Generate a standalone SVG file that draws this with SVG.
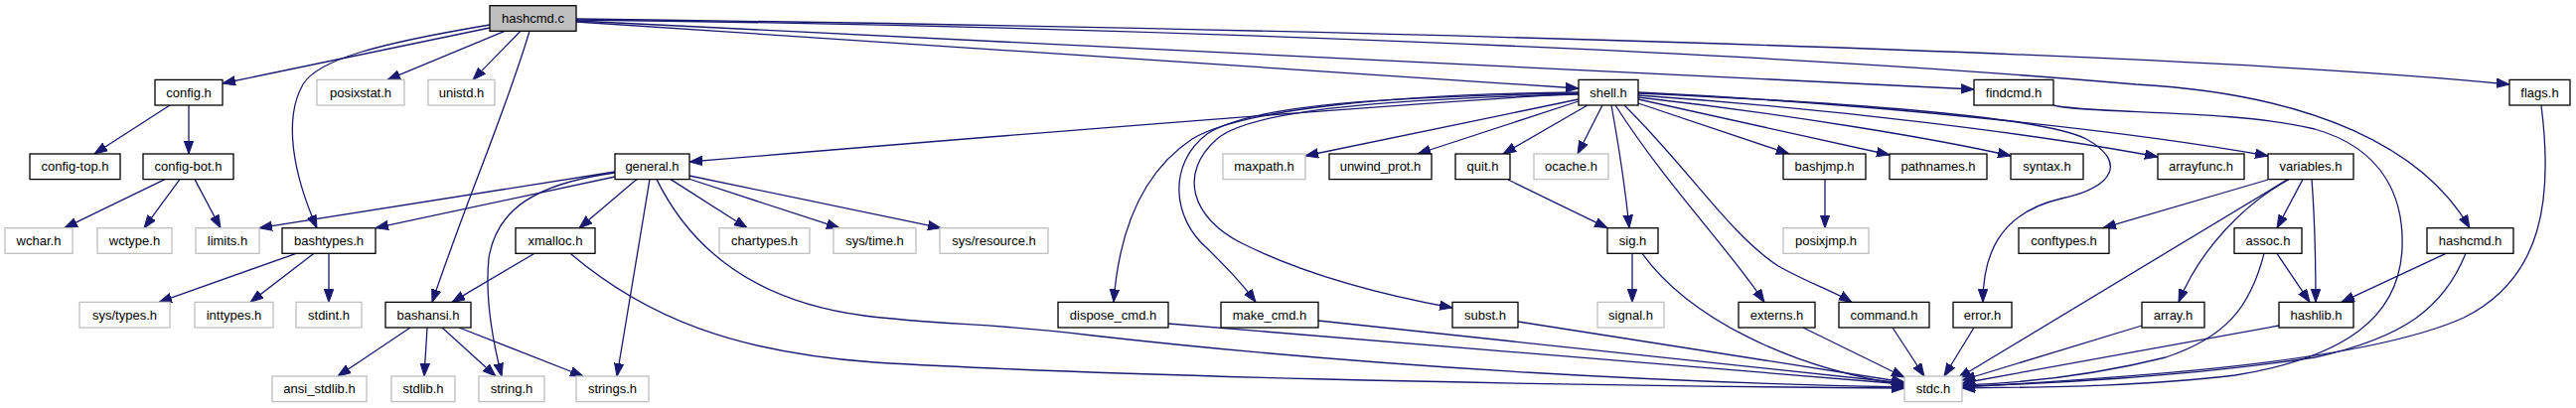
<svg xmlns="http://www.w3.org/2000/svg" width="2593" height="411" viewBox="0 0 2593 411">
<style>
.n rect{fill:#fff;stroke:#000;stroke-width:1.3}
.g rect{fill:#fff;stroke:#bfbfbf;stroke-width:1.3}
.r rect{fill:#bfbfbf;stroke:#000;stroke-width:1.3}
text{font-family:"Liberation Sans",Arial,sans-serif;font-size:13px;text-anchor:middle;fill:#000}
.e path{fill:none;stroke:#191970;stroke-width:1.3;marker-end:url(#a)}
</style>
<defs>
<marker id="a" markerUnits="userSpaceOnUse" markerWidth="14" markerHeight="11" refX="13" refY="5" orient="auto">
<path d="M0,0.3 L13,5 L0,9.7 z" fill="#191970" stroke="#191970" stroke-width="1"/>
</marker>
</defs>
<rect width="2593" height="411" fill="#fff"/>
<g class="e">
<path d="M493,28 L224,84"/>
<path d="M493,25 C380,44 320,60 305,85 C285,120 295,175 319,229.7"/>
<path d="M508,31.3 L390,80.4"/>
<path d="M524,31.3 L476,80.4"/>
<path d="M533,31.3 C510,110 470,200 435,304.4"/>
<path d="M580,22 L1589,89"/>
<path d="M580,21 L1987,90"/>
<path d="M580,19 C1300,28 2200,52 2526,85"/>
<path d="M580,20 C1100,26 1750,50 2150,85 C2330,95 2440,150 2486,229.7"/>
<path d="M1589,94 Q1300,112 694,163"/>
<path d="M1589,100 L1314,157"/>
<path d="M1589,102 L1427,155"/>
<path d="M1598,106 L1513,155"/>
<path d="M1613,106 L1588,155"/>
<path d="M1622,106 C1630,150 1636,190 1640,229.7"/>
<path d="M1626,106 C1680,190 1740,250 1776,304.4"/>
<path d="M1635,106 C1700,170 1740,235 1790,268 C1820,285 1845,293 1864,304.4"/>
<path d="M1649,104 L1801,155"/>
<path d="M1649,100 L1902,156"/>
<path d="M1649,98 C1800,115 1950,140 2024,157"/>
<path d="M1649,96 C1850,110 2050,135 2172,158"/>
<path d="M1649,93 C1900,105 2150,133 2283,157"/>
<path d="M1649,94 C1900,105 2060,120 2100,140 C2140,162 2130,188 2075,200 C2010,215 1996,260 1996,304.4"/>
<path d="M1589,93 C1400,95 1250,110 1200,140 C1140,180 1125,250 1121,304.4"/>
<path d="M1589,94 C1400,97 1260,105 1215,135 C1175,165 1180,220 1215,250 C1235,270 1250,285 1264,304.4"/>
<path d="M1589,95 C1400,100 1260,110 1225,140 C1185,175 1200,220 1250,245 C1310,275 1380,295 1462,310"/>
<path d="M1518,181 L1618,229.7"/>
<path d="M1643,255.3 L1643,304.4"/>
<path d="M1653,255.3 C1700,320 1800,370 1917,388"/>
<path d="M619,173 L261,229.7"/>
<path d="M619,178 L378,229.7"/>
<path d="M619,174 C540,185 500,210 492,260 C488,300 495,340 505,379"/>
<path d="M641,180.6 L583,229.7"/>
<path d="M654,180.6 L621,379"/>
<path d="M675,180.6 L752,229.7"/>
<path d="M693,180 L845,229.7"/>
<path d="M694,177 L947,229.7"/>
<path d="M661,180.6 C700,260 770,305 870,318 C950,328 1000,325 1100,338 C1400,372 1700,386 1917,390"/>
<path d="M538,255.3 L455,304.4"/>
<path d="M574,255.3 C650,320 740,355 880,365 C1100,378 1500,388 1917,391"/>
<path d="M1176,326 L1917,387"/>
<path d="M1327,323 L1917,386"/>
<path d="M1528,324 L1917,385"/>
<path d="M1815,330 L1917,380"/>
<path d="M1905,330 L1937,379"/>
<path d="M1987,330 L1957,379"/>
<path d="M2303,180.6 L1971,381"/>
<path d="M2283,181 L2117,229.7"/>
<path d="M2304,180.6 C2260,205 2215,250 2193,304.4"/>
<path d="M2318,180.6 L2292,229.7"/>
<path d="M2327,180.6 C2330,220 2331,260 2331,304.4"/>
<path d="M2292,255.3 L2325,304.4"/>
<path d="M2279,255.3 C2265,310 2240,340 2180,360 C2100,380 2030,386 1975.3,388"/>
<path d="M2462,255.3 L2357,304.4"/>
<path d="M2482,255.3 C2460,310 2420,340 2330,360 C2200,380 2050,387 1975.3,389"/>
<path d="M2558,106 C2570,200 2560,280 2480,320 C2380,365 2150,380 1975.3,390"/>
<path d="M2067,106 C2100,115 2250,110 2330,130 C2400,150 2420,200 2418,250 C2415,320 2360,360 2250,378 C2150,390 2050,390 1975.3,391"/>
<path d="M2294,328 L1975.3,386"/>
<path d="M2156,328 L1975.3,383"/>
<path d="M171,106 L95,155"/>
<path d="M190,106 L190,155"/>
<path d="M166,180.6 L65,229.7"/>
<path d="M181,180.6 L145,229.7"/>
<path d="M196,180.6 L222,229.7"/>
<path d="M298,255.3 L160,304.4"/>
<path d="M316,255.3 L252,304.4"/>
<path d="M331,255.3 L331,304.4"/>
<path d="M413,330 L340,379"/>
<path d="M430,330 L427,379"/>
<path d="M445,330 L499,379"/>
<path d="M462,330 L587,379"/>
<path d="M1837,180.6 L1837,229.7"/>
</g>
<g id="hashcmd_c" class="r"><rect x="493" y="5.7" width="87" height="25.6"/><text x="536.5" y="23">hashcmd.c</text></g>
<g id="config_h" class="n"><rect x="156" y="80.4" width="68" height="25.6"/><text x="190" y="97.7">config.h</text></g>
<g id="posixstat_h" class="g"><rect x="319" y="80.4" width="88" height="25.6"/><text x="363" y="97.7">posixstat.h</text></g>
<g id="unistd_h" class="g"><rect x="431" y="80.4" width="67" height="25.6"/><text x="464.5" y="97.7">unistd.h</text></g>
<g id="shell_h" class="n"><rect x="1589" y="80.4" width="60" height="25.6"/><text x="1619" y="97.7">shell.h</text></g>
<g id="findcmd_h" class="n"><rect x="1987" y="80.4" width="80" height="25.6"/><text x="2027" y="97.7">findcmd.h</text></g>
<g id="flags_h" class="n"><rect x="2526" y="80.4" width="61" height="25.6"/><text x="2556.5" y="97.7">flags.h</text></g>
<g id="config-top_h" class="n"><rect x="30" y="155" width="91" height="25.6"/><text x="75.5" y="172.3">config-top.h</text></g>
<g id="config-bot_h" class="n"><rect x="144" y="155" width="91" height="25.6"/><text x="189.5" y="172.3">config-bot.h</text></g>
<g id="general_h" class="n"><rect x="619" y="155" width="75" height="25.6"/><text x="656.5" y="172.3">general.h</text></g>
<g id="maxpath_h" class="g"><rect x="1231" y="155" width="83" height="25.6"/><text x="1272.5" y="172.3">maxpath.h</text></g>
<g id="unwind_prot_h" class="n"><rect x="1338" y="155" width="103" height="25.6"/><text x="1389.5" y="172.3">unwind_prot.h</text></g>
<g id="quit_h" class="n"><rect x="1465" y="155" width="55" height="25.6"/><text x="1492.5" y="172.3">quit.h</text></g>
<g id="ocache_h" class="g"><rect x="1544" y="155" width="75" height="25.6"/><text x="1581.5" y="172.3">ocache.h</text></g>
<g id="bashjmp_h" class="n"><rect x="1795" y="155" width="83" height="25.6"/><text x="1836.5" y="172.3">bashjmp.h</text></g>
<g id="pathnames_h" class="n"><rect x="1902" y="155" width="98" height="25.6"/><text x="1951" y="172.3">pathnames.h</text></g>
<g id="syntax_h" class="n"><rect x="2024" y="155" width="73" height="25.6"/><text x="2060.5" y="172.3">syntax.h</text></g>
<g id="arrayfunc_h" class="n"><rect x="2172" y="155" width="87" height="25.6"/><text x="2215.5" y="172.3">arrayfunc.h</text></g>
<g id="variables_h" class="n"><rect x="2283" y="155" width="86" height="25.6"/><text x="2326" y="172.3">variables.h</text></g>
<g id="wchar_h" class="g"><rect x="5" y="229.7" width="68" height="25.6"/><text x="39" y="247">wchar.h</text></g>
<g id="wctype_h" class="g"><rect x="98" y="229.7" width="75" height="25.6"/><text x="135.5" y="247">wctype.h</text></g>
<g id="limits_h" class="g"><rect x="197" y="229.7" width="64" height="25.6"/><text x="229" y="247">limits.h</text></g>
<g id="bashtypes_h" class="n"><rect x="284" y="229.7" width="94" height="25.6"/><text x="331" y="247">bashtypes.h</text></g>
<g id="xmalloc_h" class="n"><rect x="519" y="229.7" width="80" height="25.6"/><text x="559" y="247">xmalloc.h</text></g>
<g id="chartypes_h" class="g"><rect x="724" y="229.7" width="91" height="25.6"/><text x="769.5" y="247">chartypes.h</text></g>
<g id="sys_time_h" class="g"><rect x="839" y="229.7" width="83" height="25.6"/><text x="880.5" y="247">sys/time.h</text></g>
<g id="sys_resource_h" class="g"><rect x="946" y="229.7" width="109" height="25.6"/><text x="1000.5" y="247">sys/resource.h</text></g>
<g id="sig_h" class="n"><rect x="1618" y="229.7" width="51" height="25.6"/><text x="1643.5" y="247">sig.h</text></g>
<g id="posixjmp_h" class="g"><rect x="1795" y="229.7" width="86" height="25.6"/><text x="1838" y="247">posixjmp.h</text></g>
<g id="conftypes_h" class="n"><rect x="2032" y="229.7" width="91" height="25.6"/><text x="2077.5" y="247">conftypes.h</text></g>
<g id="assoc_h" class="n"><rect x="2249" y="229.7" width="68" height="25.6"/><text x="2283" y="247">assoc.h</text></g>
<g id="hashcmd_h" class="n"><rect x="2443" y="229.7" width="87" height="25.6"/><text x="2486.5" y="247">hashcmd.h</text></g>
<g id="sys_types_h" class="g"><rect x="80" y="304.4" width="91" height="25.6"/><text x="125.5" y="321.7">sys/types.h</text></g>
<g id="inttypes_h" class="g"><rect x="196" y="304.4" width="79" height="25.6"/><text x="235.5" y="321.7">inttypes.h</text></g>
<g id="stdint_h" class="g"><rect x="298" y="304.4" width="66" height="25.6"/><text x="331" y="321.7">stdint.h</text></g>
<g id="bashansi_h" class="n"><rect x="388" y="304.4" width="86" height="25.6"/><text x="431" y="321.7">bashansi.h</text></g>
<g id="dispose_cmd_h" class="n"><rect x="1065" y="304.4" width="111" height="25.6"/><text x="1120.5" y="321.7">dispose_cmd.h</text></g>
<g id="make_cmd_h" class="n"><rect x="1229" y="304.4" width="98" height="25.6"/><text x="1278" y="321.7">make_cmd.h</text></g>
<g id="subst_h" class="n"><rect x="1462" y="304.4" width="66" height="25.6"/><text x="1495" y="321.7">subst.h</text></g>
<g id="signal_h" class="g"><rect x="1608" y="304.4" width="67" height="25.6"/><text x="1641.5" y="321.7">signal.h</text></g>
<g id="externs_h" class="n"><rect x="1750" y="304.4" width="77" height="25.6"/><text x="1788.5" y="321.7">externs.h</text></g>
<g id="command_h" class="n"><rect x="1851" y="304.4" width="91" height="25.6"/><text x="1896.5" y="321.7">command.h</text></g>
<g id="error_h" class="n"><rect x="1966" y="304.4" width="59" height="25.6"/><text x="1995.5" y="321.7">error.h</text></g>
<g id="array_h" class="n"><rect x="2156" y="304.4" width="63" height="25.6"/><text x="2187.5" y="321.7">array.h</text></g>
<g id="hashlib_h" class="n"><rect x="2294" y="304.4" width="75" height="25.6"/><text x="2331.5" y="321.7">hashlib.h</text></g>
<g id="ansi_stdlib_h" class="g"><rect x="274" y="379" width="95" height="25.6"/><text x="321.5" y="396.3">ansi_stdlib.h</text></g>
<g id="stdlib_h" class="g"><rect x="394" y="379" width="64" height="25.6"/><text x="426" y="396.3">stdlib.h</text></g>
<g id="string_h" class="g"><rect x="482" y="379" width="66" height="25.6"/><text x="515" y="396.3">string.h</text></g>
<g id="strings_h" class="g"><rect x="580" y="379" width="73" height="25.6"/><text x="616.5" y="396.3">strings.h</text></g>
<g id="stdc_h" class="g"><rect x="1917" y="379" width="58" height="25.6"/><text x="1946" y="396.3">stdc.h</text></g>
</svg>
